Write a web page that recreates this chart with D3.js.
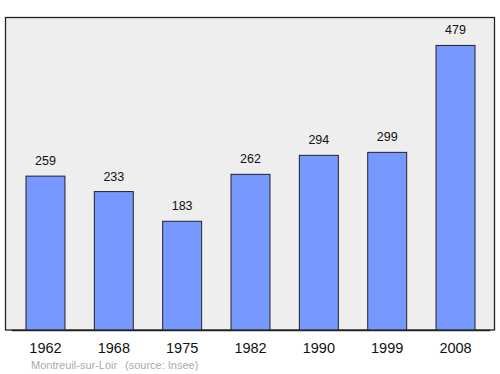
<!DOCTYPE html>
<html><head><meta charset="utf-8">
<script src="https://cdn.jsdelivr.net/npm/d3@7"></script>
<style>body{margin:0;background:#fff}svg{display:block}</style>
</head><body>
<script>
const years = ["1962","1968","1975","1982","1990","1999","2008"];
const population = [259,233,183,262,294,299,479];
const footerName = "Montreuil-sur-Loir";
const footerSource = "(source: Insee)";

(function(){
const W = 500, H = 374;
const svg = d3.select("body").append("svg").attr("width", W).attr("height", H);
const pl = 5.5, pr = 494.5, pt = 17.5, pb = 330;

svg.append("rect").attr("x", pl).attr("y", pt).attr("width", pr-pl).attr("height", pb-pt)
  .attr("fill", "#eeeeee").attr("stroke", "#222").attr("stroke-width", 1.3);

const x = d3.scaleBand().domain(years).range([11.3, 489.7]).paddingInner(0.43).paddingOuter(0.215);
const y = d3.scaleLinear().domain([0, 526]).range([pb, pt]);

svg.selectAll("rect.bar").data(population).enter().append("rect").attr("class","bar")
  .attr("x", (d,i) => x(years[i]))
  .attr("y", d => y(d))
  .attr("width", x.bandwidth())
  .attr("height", d => pb - y(d))
  .attr("fill", "#7799ff").attr("stroke", "#222").attr("stroke-width", 1);

svg.selectAll("text.val").data(population).enter().append("text").attr("class","val")
  .attr("x", (d,i) => x(years[i]) + x.bandwidth()/2)
  .attr("y", d => y(d) - 11)
  .attr("text-anchor", "middle")
  .attr("font-family", "Liberation Sans, Arial, sans-serif").attr("font-size", 12.5).attr("fill", "#111")
  .text(d => d);

const axis = d3.axisBottom(x).tickSize(0).tickPadding(0);
const g = svg.append("g").attr("transform", `translate(0,${pb})`).call(axis);
g.select(".domain").attr("stroke", "#222").attr("stroke-width", 1.3);
g.selectAll("text").attr("font-family", "Liberation Sans, Arial, sans-serif").attr("font-size", 14.5)
  .attr("fill", "#111").attr("dy", 0).attr("y", 22.5);

svg.append("text").attr("x", 31).attr("y", 369).attr("font-family", "Liberation Sans, Arial, sans-serif")
  .attr("font-size", 11).attr("fill", "#aaaaaa").text(footerName);
svg.append("text").attr("x", 125).attr("y", 369).attr("font-family", "Liberation Sans, Arial, sans-serif")
  .attr("font-size", 11).attr("fill", "#aaaaaa").text(footerSource);
})();
</script>
</body></html>
